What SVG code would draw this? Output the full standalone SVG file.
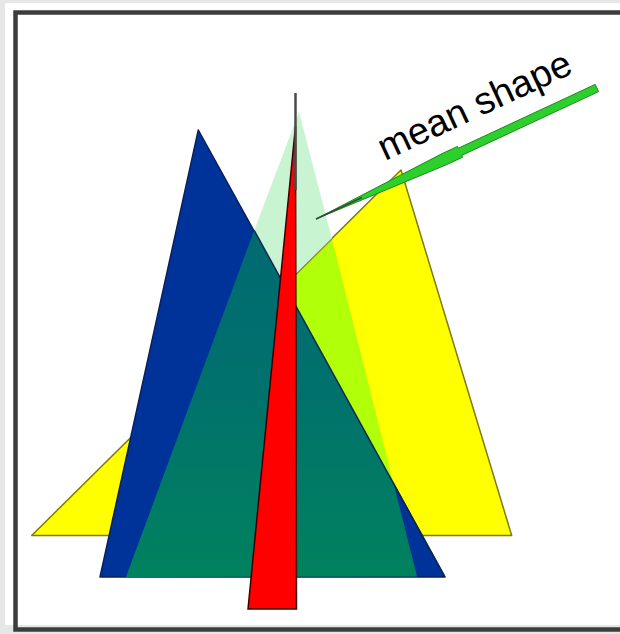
<svg xmlns="http://www.w3.org/2000/svg" width="620" height="634" viewBox="0 0 620 634">
  <defs>
    <linearGradient id="meanBlue" x1="0" y1="230" x2="0" y2="577" gradientUnits="userSpaceOnUse">
      <stop offset="0" stop-color="#006a72"/>
      <stop offset="0.45" stop-color="#00716c"/>
      <stop offset="1" stop-color="#00825e"/>
    </linearGradient>
    <style>
      .yellow { fill: #ffff00; stroke: #7d7a10; stroke-width: 1.5; stroke-linejoin: round; }
      .blue { fill: #00339a; stroke: #0a1f5a; stroke-width: 1.5; stroke-linejoin: round; }
      .pale { fill: #c8f4d2; }
      .lime { fill: #b2ff0a; }
      .teal { fill: url(#meanBlue); }
      .edgeBlue { fill: none; stroke: #0b2a50; stroke-width: 1.5; }
      .edgeYellow { fill: none; stroke: #8a8a10; stroke-width: 1.2; }
      .red { fill: #ff0000; stroke: #3a0000; stroke-width: 1.5; stroke-linejoin: miter; }
      .tip { stroke: #4a4a4a; stroke-width: 2.5; stroke-linecap: butt; }
      .arrow { fill: #2ccf2c; stroke: #1b8a1b; stroke-width: 1; stroke-linejoin: round; }
      .label { font-family: "Liberation Sans", Arial, sans-serif; font-size: 38px; fill: #000; }
    </style>
  </defs>

  <rect x="0" y="0" width="620" height="634" fill="#e6e6e6"/>
  <rect x="5" y="3" width="615" height="622" fill="#ffffff"/>

  <g id="yellow-shape">
    <polygon class="yellow" points="31.7,535.5 401,170 511.7,535.5"/>
  </g>

  <g id="blue-shape">
    <polygon class="blue" points="198.3,130 100,577 445,577"/>
  </g>

  <g id="mean-shape">
    <polygon class="pale" points="299,112 254.2,230.4 284.5,285.8 332,238.9"/>
    <polygon class="lime" points="284.5,285.8 332,238.9 393.5,483"/>
    <polygon class="teal" points="254.2,230.4 126,577 417,576.5 393.5,483"/>
    <line class="edgeBlue" x1="254.2" y1="230.4" x2="445" y2="577"/>
    <line class="edgeYellow" x1="284.5" y1="285.8" x2="332" y2="238.9"/>
  </g>

  <g id="red-shape">
    <polygon class="red" points="295.5,126 296.5,609 248,609"/>
    <line class="tip" x1="295.5" y1="93" x2="295.5" y2="190"/>
  </g>

  <g id="connectors">
    <polygon class="arrow" points="316,219 447.2,164.4 462.6,157.2 461.7,155.4 598.6,91.6 595.2,84.4 458.3,148.2 457.5,146.4 442.1,153.6"/>
    <line x1="316" y1="219" x2="362" y2="197.5" stroke="#3a4a3a" stroke-width="1.6"/>
  </g>

  <g id="label">
    <text class="label" x="385" y="161" transform="rotate(-25 385 161)">mean shape</text>
  </g>

  <g id="frame">
    <rect x="15.5" y="12.5" width="630" height="617" fill="none" stroke="#3c3c3c" stroke-width="4.5"/>
  </g>
</svg>
